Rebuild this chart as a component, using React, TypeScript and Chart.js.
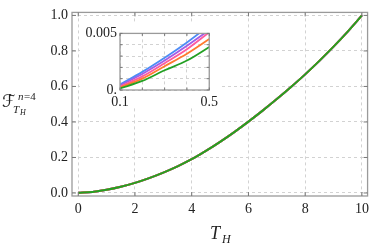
import React, { useEffect, useRef } from "react";
import { Chart, registerables } from "chart.js";

Chart.register(...registerables);

// ---- main plot data ----
const mainT = [0, 0.5, 1, 1.5, 2, 2.5, 3, 3.5, 4, 4.5, 5, 5.5, 6, 6.5, 7, 7.5, 8, 8.5, 9, 9.5, 10];
const mainF = [0.001, 0.006, 0.018, 0.035, 0.057, 0.084, 0.115, 0.15, 0.19, 0.237, 0.288, 0.343, 0.402, 0.464, 0.529, 0.597, 0.668, 0.744, 0.824, 0.909, 1.0];
const mainXTicks = [0, 2, 4, 6, 8, 10];
const mainYTicks = [0, 0.2, 0.4, 0.6, 0.8, 1.0];

// ---- inset data ----
const insetT = [0.1, 0.2, 0.3, 0.4, 0.5];
const insetBlue = [0.00048, 0.0016, 0.00285, 0.0042, 0.0057];
const insetPurple = [0.0004, 0.00142, 0.0026, 0.0039, 0.0053];
const insetPink = [0.0003, 0.0012, 0.00237, 0.0036, 0.0051];
const insetOrange = [0.00022, 0.001, 0.0021, 0.0032, 0.0045];
const insetGreen = [0.00014, 0.0008, 0.00174, 0.0026, 0.0038];
const insetXTicks = [0.1, 0.2, 0.3, 0.4, 0.5];
const insetYTicks = [0, 0.001, 0.002, 0.003, 0.004, 0.005];
const insetXLabels: Record<string, string> = { "0.1": "0.1", "0.5": "0.5" };
const insetYLabels: Record<string, string> = { "0": "0.", "0.005": "0.005" };

const COLORS = {
  blue: "#4d8cf5",
  purple: "#a35ce6",
  pink: "#ff5b9e",
  orange: "#ff7a2e",
  green: "#23a023",
};

const SERIF = "'Liberation Serif', 'DejaVu Serif', serif";
const GRID = "#d2d2d2";
const FRAME = "#9a9a9a";

const pts = (xs: number[], ys: number[]) => xs.map((x, i) => ({ x, y: ys[i] }));

const framePlugin = (tickLen: number) => ({
  id: "frame",
  afterDraw(chart: any) {
    const { ctx, chartArea: a, scales } = chart;
    ctx.save();
    ctx.strokeStyle = FRAME;
    ctx.lineWidth = 1.3;
    ctx.setLineDash([]);
    ctx.strokeRect(a.left, a.top, a.right - a.left, a.bottom - a.top);
    ctx.lineWidth = 1;
    ctx.strokeStyle = "#777";
    ctx.beginPath();
    scales.x.ticks.forEach((t: any) => {
      const px = scales.x.getPixelForValue(t.value);
      ctx.moveTo(px, a.bottom);
      ctx.lineTo(px, a.bottom - tickLen);
      ctx.moveTo(px, a.top);
      ctx.lineTo(px, a.top + tickLen);
    });
    scales.y.ticks.forEach((t: any) => {
      const py = scales.y.getPixelForValue(t.value);
      ctx.moveTo(a.left, py);
      ctx.lineTo(a.left + tickLen, py);
      ctx.moveTo(a.right, py);
      ctx.lineTo(a.right - tickLen, py);
    });
    ctx.stroke();
    ctx.restore();
  },
});

const mainLabels = {
  id: "mainLabels",
  afterDraw(chart: any) {
    const { ctx } = chart;
    ctx.save();
    ctx.fillStyle = "#222";
    ctx.textBaseline = "alphabetic";
    ctx.textAlign = "left";
    // y label: dotted script F with sub/superscripts
    ctx.font = "italic 17px 'DejaVu Serif', 'DejaVu Sans', serif";
    ctx.fillText("ℱ", 2, 107);
    ctx.beginPath();
    ctx.arc(10, 95, 1.1, 0, Math.PI * 2);
    ctx.fill();
    ctx.font = "italic 11px " + SERIF;
    ctx.fillText("n", 18, 100);
    ctx.font = "11px " + SERIF;
    ctx.fillText("=4", 24, 100);
    ctx.font = "italic 11px " + SERIF;
    ctx.fillText("T", 13, 113);
    ctx.font = "italic 8px " + SERIF;
    ctx.fillText("H", 20, 115);
    // x label
    ctx.font = "italic 18px " + SERIF;
    ctx.fillText("T", 210, 239);
    ctx.font = "italic 12px " + SERIF;
    ctx.fillText("H", 222, 243);
    ctx.restore();
  },
};

const whiteBg = {
  id: "whiteBg",
  beforeDraw(chart: any) {
    const { ctx, width, height } = chart;
    ctx.save();
    ctx.fillStyle = "#fff";
    ctx.fillRect(0, 0, width, height);
    ctx.restore();
  },
};

export default function App() {
  const mainRef = useRef<HTMLCanvasElement>(null);
  const insetRef = useRef<HTMLCanvasElement>(null);

  useEffect(() => {
    document.body.style.margin = "0";
    // draw order: higher `order` is drawn first, so green (order 0) ends on top
    const lineDs = (label: string, data: any, color: string, w: number, order: number) => ({
      label,
      data,
      order,
      borderColor: color,
      backgroundColor: color,
      borderWidth: w,
      pointRadius: 0,
      cubicInterpolationMode: "monotone" as const,
      fill: false,
    });

    const main = new Chart(mainRef.current!, {
      type: "line",
      data: {
        datasets: [
          lineDs("blue", pts(mainT, mainF), COLORS.blue, 2, 4),
          lineDs("purple", pts(mainT, mainF), COLORS.purple, 2, 3),
          lineDs("pink", pts(mainT, mainF), COLORS.pink, 2, 2),
          lineDs("orange", pts(mainT, mainF), COLORS.orange, 2, 1),
          lineDs("green", pts(mainT, mainF), COLORS.green, 2, 0),
        ],
      },
      options: {
        animation: false,
        responsive: false,
        events: [],
        layout: { padding: { top: 12, right: 5, left: 0, bottom: 0 } },
        plugins: { legend: { display: false }, tooltip: { enabled: false } },
        scales: {
          x: {
            type: "linear",
            min: -0.22,
            max: 10.2,
            afterFit: (s: any) => { s.height = 53; },
            afterBuildTicks: (s: any) => { s.ticks = mainXTicks.map((v) => ({ value: v })); },
            ticks: {
              font: { family: SERIF, size: 14 },
              color: "#222",
              padding: 5,
              maxRotation: 0,
              callback: (v: any) => String(v),
            },
            grid: { color: GRID, drawTicks: false, lineWidth: 1 },
            border: { display: false, dash: [3, 3] },
          },
          y: {
            type: "linear",
            min: -0.017,
            max: 1.017,
            afterFit: (s: any) => { s.width = 72; },
            afterBuildTicks: (s: any) => { s.ticks = mainYTicks.map((v) => ({ value: v })); },
            ticks: {
              font: { family: SERIF, size: 14 },
              color: "#222",
              padding: 4,
              callback: (v: any) => Number(v).toFixed(1),
            },
            grid: { color: GRID, drawTicks: false, lineWidth: 1 },
            border: { display: false, dash: [3, 3] },
          },
        },
      },
      plugins: [whiteBg, framePlugin(4), mainLabels],
    });

    const inset = new Chart(insetRef.current!, {
      type: "line",
      data: {
        datasets: [
          lineDs("blue", pts(insetT, insetBlue), COLORS.blue, 1.8, 4),
          lineDs("purple", pts(insetT, insetPurple), COLORS.purple, 1.8, 3),
          lineDs("pink", pts(insetT, insetPink), COLORS.pink, 1.8, 2),
          lineDs("orange", pts(insetT, insetOrange), COLORS.orange, 1.8, 1),
          lineDs("green", pts(insetT, insetGreen), COLORS.green, 1.8, 0),
        ],
      },
      options: {
        animation: false,
        responsive: false,
        events: [],
        layout: { padding: { top: 9.5, right: 7, left: 0, bottom: 0 } },
        plugins: { legend: { display: false }, tooltip: { enabled: false } },
        scales: {
          x: {
            type: "linear",
            min: 0.1,
            max: 0.5,
            afterFit: (s: any) => { s.height = 18; },
            afterBuildTicks: (s: any) => { s.ticks = insetXTicks.map((v) => ({ value: v })); },
            ticks: {
              font: { family: SERIF, size: 14 },
              color: "#222",
              padding: 4,
              maxRotation: 0,
              autoSkip: false,
              callback: (v: any) => insetXLabels[String(Math.round(Number(v) * 10) / 10)] ?? "",
            },
            grid: { color: GRID, drawTicks: false, lineWidth: 1 },
            border: { display: false, dash: [3, 3] },
          },
          y: {
            type: "linear",
            min: 0,
            max: 0.005,
            afterFit: (s: any) => { s.width = 40; },
            afterBuildTicks: (s: any) => { s.ticks = insetYTicks.map((v) => ({ value: v })); },
            ticks: {
              font: { family: SERIF, size: 14 },
              color: "#222",
              padding: 3,
              autoSkip: false,
              callback: (v: any) => insetYLabels[String(Math.round(Number(v) * 1000) / 1000)] ?? "",
            },
            grid: { color: GRID, drawTicks: false, lineWidth: 1 },
            border: { display: false, dash: [3, 3] },
          },
        },
      },
      plugins: [whiteBg, framePlugin(2.5)],
    });

    return () => {
      main.destroy();
      inset.destroy();
    };
  }, []);

  return (
    <div style={{ position: "relative", width: 374, height: 249, background: "#fff" }}>
      <canvas ref={mainRef} width={374} height={249} style={{ position: "absolute", left: 0, top: 0 }} />
      <canvas ref={insetRef} width={142} height={86} style={{ position: "absolute", left: 80, top: 22 }} />
    </div>
  );
}
